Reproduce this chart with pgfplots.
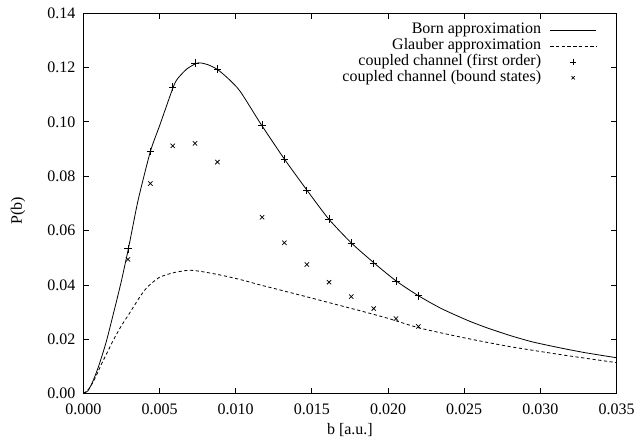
\documentclass[border=0pt]{standalone}
\usepackage{fontspec}
\setmainfont{Liberation Serif}
\usepackage{pgfplots}
\usepackage{pgfplotstable}
\pgfplotsset{compat=1.18}

\pgfplotstableread{
x y
0 0
0.0003 0.0010
0.0006 0.0042
0.0010 0.0100
0.0015 0.0190
0.0020 0.0300
0.0025 0.0415
0.0030 0.0545
0.0036 0.0713
0.0044 0.0891
0.0050 0.0985
0.0059 0.1128
0.0062 0.1160
0.0068 0.1195
0.0074 0.1215
0.0077 0.1217
0.0082 0.1210
0.0088 0.1193
0.0095 0.1160
0.0103 0.1112
0.0117 0.0988
0.0132 0.0863
0.0147 0.0747
0.0161 0.0643
0.0176 0.0554
0.0191 0.0480
0.0205 0.0416
0.0220 0.0360
0.0235 0.0313
0.0252 0.0270
0.0265 0.0242
0.0280 0.0214
0.0295 0.0190
0.0315 0.0166
0.0330 0.0150
0.0350 0.0132
}\born

\pgfplotstableread{
x y
0 0
0.0004 0.0020
0.0008 0.0060
0.0012 0.0110
0.0016 0.0155
0.0020 0.0200
0.0025 0.0250
0.0030 0.0293
0.0037 0.0355
0.0042 0.0392
0.0050 0.0428
0.0060 0.0446
0.0070 0.0454
0.0080 0.0447
0.0092 0.0434
0.0105 0.0417
0.0116 0.0400
0.0128 0.0383
0.0142 0.0363
0.0155 0.0344
0.0170 0.0322
0.0185 0.0300
0.0200 0.0277
0.0221 0.0241
0.0252 0.0203
0.0280 0.0173
0.0315 0.0142
0.0350 0.0114
}\glauber

\pgfplotstableread{
x y
0.00293 0.0533
0.00440 0.0891
0.00587 0.1128
0.00733 0.1216
0.00880 0.1194
0.01173 0.0988
0.01320 0.0863
0.01467 0.0747
0.01613 0.0643
0.01759 0.0554
0.01906 0.0478
0.02052 0.0414
0.02199 0.0360
}\ccfirst

\pgfplotstableread{
x y
0.00293 0.0494
0.00440 0.0773
0.00587 0.0912
0.00733 0.0921
0.00880 0.0852
0.01173 0.0649
0.01320 0.0555
0.01467 0.0475
0.01613 0.0410
0.01759 0.0357
0.01906 0.0313
0.02052 0.0276
0.02199 0.0247
}\ccbound

\begin{document}
\begin{tikzpicture}[font=\fontsize{12}{14}\selectfont]
\begin{axis}[name=ax, scale only axis, width=399.9pt, height=285.3pt,
  xmin=0, xmax=0.035, ymin=0, ymax=0.14,
  xtick={0,0.005,0.010,0.015,0.020,0.025,0.030,0.035},
  ytick={0,0.02,0.04,0.06,0.08,0.10,0.12,0.14},
  scaled x ticks=false, scaled y ticks=false,
  xticklabel style={yshift=-4pt, /pgf/number format/.cd,fixed,fixed zerofill,precision=3,assume math mode=true},
  yticklabel style={xshift=-2.5pt, /pgf/number format/.cd,fixed,fixed zerofill,precision=2,assume math mode=true},
  /pgf/number format/assume math mode=true,
  tick pos=both, tick align=inside, major tick length=4.5pt,
  axis line style={line width=0.8pt}, tick style={line width=0.6pt, black},
  xlabel={b [a.u.]}, ylabel={P(b)},
  xlabel style={at={(axis description cs:0.5,-0.096)}, anchor=center},
  ylabel style={at={(axis description cs:-0.1225,0.48)}, anchor=center},
  legend style={draw=none, fill=none, at={(rel axis cs:0.963,0.977)}, anchor=north east,
    inner sep=0pt, nodes={inner sep=0pt, text height=8.5pt, text depth=3.4pt},
    /tikz/every odd column/.append style={column sep=6.5pt}},
  legend plot pos=right, legend cell align=right,
  legend image code/.code={\draw[mark repeat=2,mark phase=2,#1] plot coordinates {(0pt,0pt) (17.25pt,0pt) (34.5pt,0pt)};},
]
\addplot[black, line width=0.6pt, smooth, tension=0.4, mark=none] table {\born};
\addlegendentry{Born approximation}
\addplot[black, line width=0.6pt, dash pattern=on 2.4pt off 1.9pt, smooth, tension=0.4, mark=none] table {\glauber};
\addlegendentry{Glauber approximation}
\addplot[black, only marks, mark=+, mark size=2.8pt, mark options={line width=0.55pt},
  legend image post style={mark size=2pt}] table {\ccfirst};
\addlegendentry{coupled channel (first order)}
\addplot[black, only marks, mark=x, mark size=2.3pt, mark options={line width=0.55pt},
  legend image post style={mark size=1.7pt}] table {\ccbound};
\addlegendentry{coupled channel (bound states)}
\end{axis}
\pgfresetboundingbox
\path[use as bounding box] ([shift={(-62.5pt,-39.3pt)}]ax.south west) rectangle ([shift={(13.1pt,9.9pt)}]ax.north east);
\end{tikzpicture}
\end{document}
